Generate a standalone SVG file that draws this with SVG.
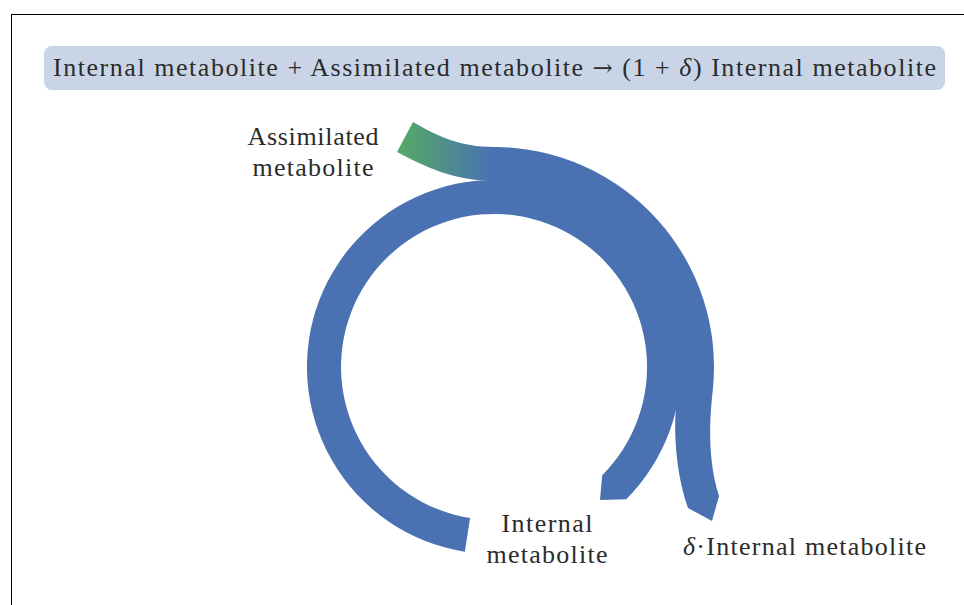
<svg xmlns="http://www.w3.org/2000/svg" width="964" height="605" viewBox="0 0 964 605">
<defs>
<linearGradient id="gAssim" gradientUnits="userSpaceOnUse" x1="402" y1="0" x2="492" y2="0">
<stop offset="0" stop-color="#55a868"/>
<stop offset="1" stop-color="#4a72b2"/>
</linearGradient>
<style>
.t{font-family:"Liberation Serif","Times New Roman",serif;font-size:26px;fill:#2b2b2b}
.arrow{font-family:"DejaVu Serif",serif;font-size:24px}
.flow{fill:#4a72b2;stroke:none}
</style>
</defs>
<rect width="964" height="605" fill="#fff"/>
<rect x="11.5" y="14.5" width="1000" height="1000" fill="none" stroke="#000" stroke-width="1"/>
<g id="title">
<rect x="44" y="46" width="901" height="44" rx="8" ry="8" fill="#c9d5e7"/>
<text class="t" x="53" y="76" textLength="883" lengthAdjust="spacing">Internal metabolite + Assimilated metabolite <tspan class="arrow">→</tspan> (1 + <tspan font-style="italic">δ</tspan>) Internal metabolite</text>
</g>
<g id="connectors">
<path id="flow-assimilated" d="M413 122 C437 136 460 147 494 147 L500 147 L500 181 L494 181 C455 181 425 167 397 152 Z" fill="url(#gAssim)"/>
<path id="flow-internal" class="flow" d="M470.1 518.1 A153 153 0 1 1 602.2 475.2 L600 500 L626.2 499.2 A187 187 0 1 0 464.8 551.7 Z"/>
<path id="flow-delta" class="flow" d="M494 147 A220 220 0 0 1 712.8 390 C710.5 412 706 455 719 496 L712 521 L688 508 C678 480 673 440 676 407 L667.9 405.2 A178 178 0 0 0 494 189 Z"/>
</g>
<g id="label-assimilated">
<text class="t" x="313" y="145" text-anchor="middle" textLength="131" lengthAdjust="spacing">Assimilated</text>
<text class="t" x="313" y="176" text-anchor="middle" textLength="121" lengthAdjust="spacing">metabolite</text>
</g>
<g id="label-internal">
<text class="t" x="547" y="532" text-anchor="middle" textLength="91" lengthAdjust="spacing">Internal</text>
<text class="t" x="547" y="563" text-anchor="middle" textLength="121" lengthAdjust="spacing">metabolite</text>
</g>
<g id="label-delta">
<text class="t" x="683" y="555" textLength="243" lengthAdjust="spacing"><tspan font-style="italic">δ</tspan>·Internal metabolite</text>
</g>
</svg>
